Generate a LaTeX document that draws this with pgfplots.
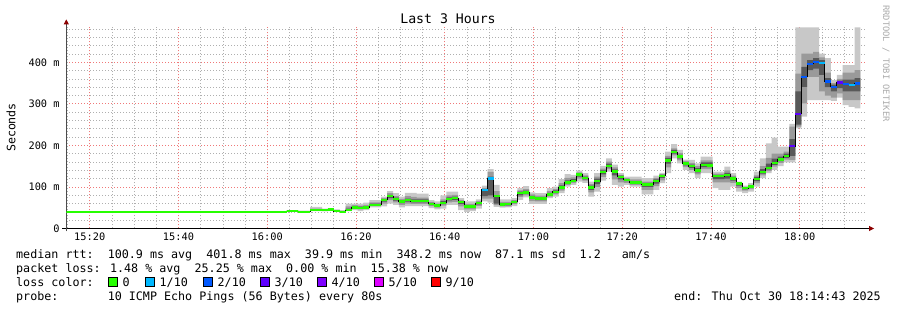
\documentclass[border=0pt]{standalone}
\usepackage{fontspec}
\setmainfont{DejaVu Sans Mono}
\usepackage{pgfplots}
\pgfplotsset{compat=1.18}
\usepackage{pgfplotstable}
\usepgfplotslibrary{fillbetween}
\usetikzlibrary{arrows.meta}
\definecolor{lgreen}{HTML}{26FF00}
\definecolor{lcyan}{HTML}{00B8FF}
\definecolor{lblue}{HTML}{0059FF}
\definecolor{lpurple}{HTML}{5E00FF}
\definecolor{lviolet}{HTML}{7E00FF}
\definecolor{lmagenta}{HTML}{DD00FF}
\definecolor{lred}{HTML}{FF0000}
\definecolor{smokeA}{HTML}{C8C8C8}
\definecolor{smokeB}{HTML}{9A9A9A}
\definecolor{smokeC}{HTML}{595959}
\definecolor{gridred}{RGB}{240,120,120}
\definecolor{gridgray}{RGB}{175,175,175}
\newcommand{\tfont}{\fontsize{10.3}{12}\selectfont}
\newcommand{\lfont}{\fontsize{11.7}{14}\selectfont}

\pgfplotstableread{
x m lo1 hi1 lo2 hi2 lo3 hi3
14.72 39.9 39.9 39.9 39.9 39.9 39.9 39.9
64.36 42 41 44 41.5 43 41.8 42.5
65.69 42 41 44 41.5 43 41.8 42.5
67.03 40 39 43 39.5 41.5 39.8 40.8
68.36 40 39 43 39.5 41.5 39.8 40.8
69.69 44 42 52 43 48 43.5 46
71.03 44 42 52 43 48 43.5 46
72.36 44 41 48 42.5 46 43.3 45
73.69 46 43 49 44.5 47.5 45.3 46.8
75.03 42 40 46 41 44 41.5 43
76.36 40 38 44 39 42 39.5 41
77.69 44.5 42 60 43 53 44 48
79.03 51 44 60 47 56 49 53.5
80.36 50 42 60 46 55 48 52.5
81.69 51 44 62 47 57 49 54
83.03 57 51 68 54 63 55.5 60
84.36 57 51 68 54 63 55.5 60
85.69 68.6 53 77 60 73 64.5 70.5
87.03 78 60 90 68 85 73 81
88.36 71 57 85 63 78 67 74.5
89.69 64.5 51 77 57 71 61 67.5
91.03 68 54 86 60 78 64.5 72
92.36 66 54 86 59.5 76 63 70
93.69 66 54 84 59.5 74 63 70
95.03 66 54 84 59.5 74 63 70
96.36 59 49 68 54 64 56.5 61.5
97.69 55 46 65 50 60 52.5 57.5
99.03 62 48 80 55 70 58.5 66
100.36 71 57 89 63 80 67.5 75
101.69 73 57 89 64 81 69 77
103.03 64 44 73 53 69 59 66
104.36 52.5 40 65 46 59 49.5 55.5
105.69 52.5 42 65 46 59 49.5 55.5
107.03 61 48 70 54.5 66 58 63.5
108.36 93 65 103 72 98 78 94
109.69 120 62 143 72 136 80 125
111.03 77.5 52 105 56 90 60 80
112.36 58 50 70 53 64 55.5 61
113.69 58.5 51 70 53 64 55.5 61
115.03 64 54 73 58.5 68.5 61 66.5
116.36 85 69 98 76 92 80 88.5
117.69 87 75 102 80 95 84 91
119.03 75 59 87 66 82 71 78.5
120.36 72 59 85 65 79 68.5 75.5
121.69 72 59 85 65 79 68.5 75.5
123.03 82 73 97 77 90 80 86
124.36 88 77 101 82 95 85 92
125.69 99 85 119 91 109 95 104
127.03 111 101 131 105 122 108 116
128.36 115 105 129 109 123 112 119
129.69 129.5 113 139 120 135 125 133
131.03 121 110 133 115 128 118 125
132.36 99 77 113 87 107 93 103
133.69 114 89 133 100 125 107 120
135.03 136 115 151 124 144 130 140
136.36 151 137 169 143 161 147 156
137.69 137 105 154 118 147 128 142
139.03 124 101 133 111 129 118 127
140.36 117 105 125 110 121 114 119
141.69 111 101 125 105 118 108 114
143.03 111 101 125 105 118 108 114
144.36 106 82 121 93 113 100 110
145.69 106 82 121 93 113 100 110
147.03 114 93 127 102 121 108 118
148.36 127 109 134 116 131 122 129
149.69 164 133 185 147 175 156 170
151.03 184 169 203 176 193 180 189
152.36 173 157 189 164 182 169 177
153.69 156 141 166 148 162 152 159
155.03 150 133 165 141 158 146 154
156.36 140 121 157 130 150 135 145
157.69 153.5 133 173 143 164 148 159
159.03 152 133 173 143 164 148 159
160.36 126 97 137 111 132 119 129
161.69 126 93 137 111 132 119 129
163.03 129 93 149 111 140 120 134
164.36 120 101 133 110 127 115 124
165.69 108 89 113 98 111 103 110
167.03 97 85 103 91 100 94 99
168.36 101.5 89 109 95 105 98 103
169.69 119 101 137 109 128 114 124
171.03 136 121 169 128 150 132 143
172.36 145 133 205 138 170 142 156
173.69 157.6 141 219 149 180 153 168
175.03 166.5 150 197 158 180 162 173
176.36 174 159 197 166 185 170 180
177.69 198 159 252 165 245 175 215
179.03 275.6 241 484 245 373 250 330
180.36 365 269 484 301 421 341 389
181.69 396 309 484 365 421 381 405
183.03 400 309 484 365 425 385 410
184.36 398 309 421 330 412 370 405
185.69 354 309 410 320 375 340 362
187.03 341 307 357 315 350 330 346
188.36 351 315 370 325 360 338 356
189.69 348 297 393 309 375 330 358
191.03 346 293 393 309 375 330 358
192.36 349 289 484 309 381 330 362
193.69 349 289 484 309 381 330 362
}\smoke

\begin{document}
\begin{tikzpicture}
\begin{axis}[
  at={(66.3pt,81.5pt)}, anchor=south west,
  scale only axis, width=798.75pt, height=201.1pt,
  xmin=14.72, xmax=194.72, ymin=0, ymax=484,
  axis lines*=left,
  x axis line style={black, line width=0.8pt, shorten <=-4pt, shorten >=-9pt, -{Triangle[length=5pt,width=5pt,color=red!55!black]}},
  y axis line style={black!70, line width=0.8pt, shorten <=-3pt, shorten >=-8pt, -{Triangle[length=5pt,width=5pt,color=red!55!black]}},
  xtick={20,40,...,180},
  xticklabels={15:20,15:40,16:00,16:20,16:40,17:00,17:20,17:40,18:00},
  minor xtick={15,20,...,190},
  ytick={0,100,200,300,400},
  yticklabels={0,100 m,200 m,300 m,400 m},
  minor ytick={20,40,...,480},
  grid=both,
  major grid style={draw=gridred, line width=0.7pt, dash pattern=on 1pt off 2pt},
  minor grid style={draw=gridgray, line width=0.7pt, dash pattern=on 1pt off 2pt},
  major tick length=0pt, minor tick length=0pt,
  xticklabel style={font=\tfont, anchor=north, inner sep=0pt, yshift=-4.5pt},
  yticklabel style={font=\tfont, anchor=east, inner sep=0pt, xshift=-6.5pt},
]
\addplot[name path=A1, draw=none, const plot, forget plot] table[x=x,y=lo1]{\smoke};
\addplot[name path=B1, draw=none, const plot, forget plot] table[x=x,y=hi1]{\smoke};
\addplot[fill=smokeA, draw=none] fill between[of=A1 and B1];
\addplot[name path=A2, draw=none, const plot, forget plot] table[x=x,y=lo2]{\smoke};
\addplot[name path=B2, draw=none, const plot, forget plot] table[x=x,y=hi2]{\smoke};
\addplot[fill=smokeB, draw=none] fill between[of=A2 and B2];
\addplot[name path=A3, draw=none, const plot, forget plot] table[x=x,y=lo3]{\smoke};
\addplot[name path=B3, draw=none, const plot, forget plot] table[x=x,y=hi3]{\smoke};
\addplot[fill=smokeC, draw=none] fill between[of=A3 and B3];
\addplot[black, line width=1pt, const plot] table[x=x,y=m]{\smoke};
\addplot[lgreen, line width=2.4pt, jump mark left] table[x=x,y=m]{\smoke};
\addplot[lcyan, line width=2.4pt] coordinates {(108.36,93) (109.69,93)};
\addplot[lcyan, line width=2.4pt] coordinates {(109.69,120) (111.03,120)};
\addplot[lcyan, line width=2.4pt] coordinates {(184.36,398) (185.69,398)};
\addplot[lcyan, line width=2.4pt] coordinates {(191.03,346) (192.36,346)};
\addplot[lblue, line width=2.4pt] coordinates {(180.36,365) (181.69,365)};
\addplot[lblue, line width=2.4pt] coordinates {(181.69,396) (183.03,396)};
\addplot[lblue, line width=2.4pt] coordinates {(183.03,400) (184.36,400)};
\addplot[lblue, line width=2.4pt] coordinates {(185.69,354) (187.03,354)};
\addplot[lblue, line width=2.4pt] coordinates {(187.03,341) (188.36,341)};
\addplot[lblue, line width=2.4pt] coordinates {(189.69,348) (191.03,348)};
\addplot[lblue, line width=2.4pt] coordinates {(192.36,349) (193.69,349)};
\addplot[lpurple, line width=2.4pt] coordinates {(177.69,198) (179.03,198)};
\addplot[lpurple, line width=2.4pt] coordinates {(179.03,275.6) (180.36,275.6)};
\addplot[lpurple, line width=2.4pt] coordinates {(188.36,351) (189.69,351)};
\end{axis}
% title and labels
\node[font=\fontsize{13.2}{15}\selectfont, anchor=base, inner sep=0pt] at (448pt,286pt) {Last 3 Hours};
\node[font=\fontsize{11.6}{14}\selectfont, rotate=90, anchor=center, inner sep=0pt] at (11pt,182.5pt) {Seconds};
\node[font=\fontsize{8.8}{10}\selectfont, rotate=-90, anchor=base west, inner sep=0pt, text=black!33] at (883pt,305pt) {RRDTOOL / TOBI OETIKER};
% legend lines
\node[font=\lfont, anchor=base west, inner sep=0pt] at (16pt,51.5pt) {median rtt:~~100.9 ms avg~~401.8 ms max~~39.9 ms min~~348.2 ms now~~87.1 ms sd~~1.2~~~am/s};
\node[font=\lfont, anchor=base west, inner sep=0pt] at (16pt,37.5pt) {packet loss: 1.48 \% avg~~25.25 \% max~~0.00 \% min~~15.38 \% now};
\node[font=\lfont, anchor=base west, inner sep=0pt] at (16pt,23.5pt) {loss color:};
\node[font=\lfont, anchor=base west, inner sep=0pt] at (16pt,9.5pt) {probe:~~~~~~~10 ICMP Echo Pings (56 Bytes) every 80s};
\node[font=\lfont, anchor=base east, inner sep=0pt] at (881pt,9.5pt) {end: Thu Oct 30 18:14:43 2025};
\foreach \bx/\col in {108/lgreen, 145/lcyan, 203/lblue, 260/lpurple, 317/lviolet, 374/lmagenta, 431/lred}{
  \draw[fill=\col, draw=black, line width=0.8pt] (\bx pt,23.5pt) rectangle ({\bx pt+9pt},32.5pt);
}
\node[font=\lfont, anchor=base west, inner sep=0pt] at (122.5pt,23.5pt) {0};
\node[font=\lfont, anchor=base west, inner sep=0pt] at (159.5pt,23.5pt) {1/10};
\node[font=\lfont, anchor=base west, inner sep=0pt] at (217.5pt,23.5pt) {2/10};
\node[font=\lfont, anchor=base west, inner sep=0pt] at (274.5pt,23.5pt) {3/10};
\node[font=\lfont, anchor=base west, inner sep=0pt] at (331.5pt,23.5pt) {4/10};
\node[font=\lfont, anchor=base west, inner sep=0pt] at (388.5pt,23.5pt) {5/10};
\node[font=\lfont, anchor=base west, inner sep=0pt] at (445.5pt,23.5pt) {9/10};
\pgfresetboundingbox
\path[use as bounding box] (0,0) rectangle (897pt,310pt);
\end{tikzpicture}
\end{document}
